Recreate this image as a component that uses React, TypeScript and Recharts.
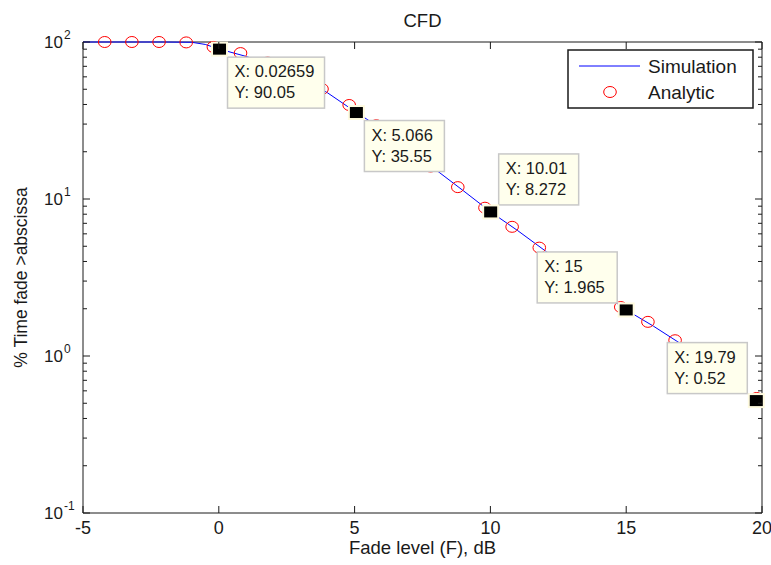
import React from "react";
import { ComposedChart, Line, Scatter, XAxis, YAxis, Customized } from "recharts";

// Data (log y axis, x in dB).
const SIM_X = [-5, -4, -3, -2, -1, -0.5, 0.02659, 1, 2, 3, 4, 5.066, 6, 7, 8, 9, 10.01, 11, 12, 13, 14, 15, 16, 17, 18, 19, 19.79];
const SIM_Y = [100, 100, 100, 100, 99.6, 96.5, 90.05, 81, 71, 60, 47.5, 35.55, 28, 20.8, 15.3, 11.3, 8.272, 6.3, 4.7, 3.55, 2.62, 1.965, 1.55, 1.2, 0.93, 0.68, 0.52];

const AN_X = [-4.2, -3.2, -2.2, -1.2, -0.2, 0.8, 1.8, 2.8, 3.8, 4.8, 5.8, 6.8, 7.8, 8.8, 9.8, 10.8, 11.8, 12.8, 13.8, 14.8, 15.8, 16.8, 17.8, 18.8, 19.8];
const AN_Y = [100, 100, 100, 99.4, 93, 85, 74, 62, 50.2, 39.7, 29.5, 21.8, 16.1, 11.9, 8.8, 6.65, 4.9, 3.65, 2.73, 2.05, 1.65, 1.26, 0.96, 0.73, 0.54];

// Data tips shown on the simulation curve
const TIP_X = [0.02659, 5.066, 10.01, 15, 19.79];
const TIP_Y = [90.05, 35.55, 8.272, 1.965, 0.52];
const TIP_SIDE = ["below-right", "below-right", "above-right", "above-left", "above-left"];

const X_TICKS = [-5, 0, 5, 10, 15, 20];
const Y_MAJOR = [0.1, 1, 10, 100];
const Y_TICKS = [
  0.1, 0.2, 0.3, 0.4, 0.5, 0.6, 0.7, 0.8, 0.9,
  1, 2, 3, 4, 5, 6, 7, 8, 9,
  10, 20, 30, 40, 50, 60, 70, 80, 90,
  100,
];

const TITLE = "CFD";
const X_LABEL = "Fade level (F), dB";
const Y_LABEL = "% Time fade >abscissa";
const SIM_NAME = "Simulation";
const AN_NAME = "Analytic";

const FONT = '"Liberation Sans", Arial, Helvetica, sans-serif';
const INK = "#1a1a1a";
const SIM_COLOR = "#0000ff";
const AN_COLOR = "#ff0000";

const WIDTH = 771;
const HEIGHT = 565;
const MARGIN = { top: 42, right: 9, bottom: 0, left: 0 };
const LEFT_AXIS_W = 83;
const BOTTOM_AXIS_H = 52;
const PLOT = {
  left: MARGIN.left + LEFT_AXIS_W,
  right: WIDTH - MARGIN.right,
  top: MARGIN.top,
  bottom: HEIGHT - MARGIN.bottom - BOTTOM_AXIS_H,
};

const simData = SIM_X.map((x, i) => ({ x, y: SIM_Y[i] }));
const anData = AN_X.map((x, i) => ({ x, y: AN_Y[i] }));
const tipData = TIP_X.map((x, i) => ({ x, y: TIP_Y[i], side: TIP_SIDE[i] }));

const isMajor = (v: number) => Y_MAJOR.some((m) => Math.abs(m - v) < 1e-9);

// left axis tick: inward mark on both sides of the box, label on the left only
function LeftTick({ x, y, payload }: any) {
  const v = payload.value;
  const major = isMajor(v);
  const len = major ? 7 : 4;
  const exp = String(Math.round(Math.log10(v)));
  return (
    <g>
      <line x1={x} x2={x + len} y1={y} y2={y} stroke={INK} />
      <line x1={PLOT.right} x2={PLOT.right - len} y1={y} y2={y} stroke={INK} />
      {major && (
        <g fontFamily={FONT} fill={INK}>
          <text x={x - 20} y={y + 6} fontSize={17} textAnchor="end">10</text>
          <text x={x - 19} y={y - 3} fontSize={12} textAnchor="start">{exp}</text>
        </g>
      )}
    </g>
  );
}

function BottomTick({ x, y, payload }: any) {
  return (
    <g>
      <line x1={x} x2={x} y1={y} y2={y - 7} stroke={INK} />
      <line x1={x} x2={x} y1={PLOT.top} y2={PLOT.top + 7} stroke={INK} />
      <text x={x} y={y + 21} fontSize={18} fontFamily={FONT} fill={INK} textAnchor="middle">
        {payload.value}
      </text>
    </g>
  );
}

function Ring({ cx, cy }: any) {
  return <ellipse cx={cx} cy={cy} rx={6.3} ry={5.5} fill="none" stroke={AN_COLOR} strokeWidth={1} />;
}

function DataTip({ cx, cy, payload }: any) {
  const xs = `X: ${payload.x}`;
  const ys = `Y: ${payload.y}`;
  const w = 8.5 * Math.max(xs.length, ys.length) + 12;
  const h = 51;
  const side: string = payload.side;
  const bx = side.endsWith("right") ? cx + 8 : cx - 9 - w;
  const by = side.startsWith("below") ? cy + 8 : cy - 7 - h;
  return (
    <g>
      <rect x={bx} y={by} width={w} height={h} fill="#ffffed" stroke="#c8c8c8" strokeWidth={1.5} />
      <text x={bx + 7} y={by + 20} fontSize={16.5} fontFamily={FONT} fill={INK}>{xs}</text>
      <text x={bx + 7} y={by + 41} fontSize={16.5} fontFamily={FONT} fill={INK}>{ys}</text>
      <rect x={cx - 8.5} y={cy - 7.5} width={17} height={15} fill="#fffbe0" />
      <rect x={cx - 6.5} y={cy - 5.5} width={13} height={11} fill="#000" />
    </g>
  );
}

// title, axis titles, box edges and legend
function Annotations() {
  const midX = (PLOT.left + PLOT.right) / 2;
  const midY = (PLOT.top + PLOT.bottom) / 2;
  const lgW = 185;
  const lgH = 58;
  const lgX = PLOT.right - 9 - lgW;
  const lgY = PLOT.top + 8;
  return (
    <g fontFamily={FONT} fill={INK}>
      <line x1={PLOT.left} x2={PLOT.right} y1={PLOT.top} y2={PLOT.top} stroke={INK} />
      <line x1={PLOT.right} x2={PLOT.right} y1={PLOT.top} y2={PLOT.bottom} stroke={INK} />
      <text x={midX} y={27} fontSize={18.5} textAnchor="middle">{TITLE}</text>
      <text x={midX} y={554} fontSize={18.5} textAnchor="middle">{X_LABEL}</text>
      <text
        x={27}
        y={midY}
        fontSize={17.5}
        textAnchor="middle"
        transform={`rotate(-90 27 ${midY})`}
      >
        {Y_LABEL}
      </text>
      <rect x={lgX} y={lgY} width={lgW} height={lgH} fill="#fff" stroke={INK} strokeWidth={1.5} />
      <line x1={lgX + 11} x2={lgX + 72} y1={lgY + 16} y2={lgY + 16} stroke={SIM_COLOR} strokeWidth={1} />
      <text x={lgX + 80} y={lgY + 22.5} fontSize={19}>{SIM_NAME}</text>
      <ellipse cx={lgX + 42} cy={lgY + 42} rx={6.3} ry={5.5} fill="none" stroke={AN_COLOR} />
      <text x={lgX + 80} y={lgY + 48.5} fontSize={19}>{AN_NAME}</text>
    </g>
  );
}

export default function App() {
  return (
    <div style={{ position: "absolute", left: 0, top: 0, background: "#fff" }}>
      <ComposedChart width={WIDTH} height={HEIGHT} margin={MARGIN}>
        <XAxis
          dataKey="x"
          type="number"
          domain={[-5, 20]}
          ticks={X_TICKS}
          interval={0}
          height={BOTTOM_AXIS_H}
          tickLine={false}
          tickSize={0}
          tickMargin={0}
          axisLine={{ stroke: INK }}
          tick={(p: any) => <BottomTick {...p} />}
        />
        <YAxis
          dataKey="y"
          type="number"
          scale="log"
          domain={[0.1, 100]}
          ticks={Y_TICKS}
          interval={0}
          width={LEFT_AXIS_W}
          tickLine={false}
          tickSize={0}
          tickMargin={0}
          axisLine={{ stroke: INK }}
          tick={(p: any) => <LeftTick {...p} />}
        />
        <Line
          data={simData}
          dataKey="y"
          type="linear"
          stroke={SIM_COLOR}
          strokeWidth={1}
          dot={false}
          activeDot={false}
          isAnimationActive={false}
        />
        <Scatter data={anData} dataKey="y" shape={(p: any) => <Ring {...p} />} isAnimationActive={false} />
        <Scatter data={tipData} dataKey="y" shape={(p: any) => <DataTip {...p} />} isAnimationActive={false} />
        <Customized component={Annotations} />
      </ComposedChart>
    </div>
  );
}
